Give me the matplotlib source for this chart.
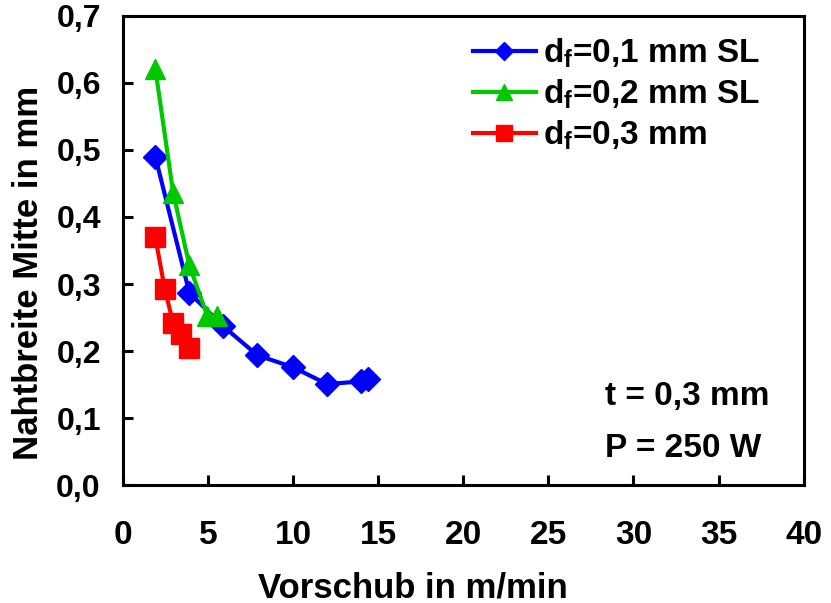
import matplotlib

matplotlib.use("Agg")
import matplotlib.pyplot as plt
from matplotlib.ticker import FuncFormatter, MultipleLocator

# d_f = 0,1 mm SL
x_01 = [1.9, 3.9, 5.9, 7.9, 10.0, 12.0, 14.0, 14.4]
y_01 = [0.490, 0.287, 0.237, 0.194, 0.176, 0.151, 0.155, 0.158]
# d_f = 0,2 mm SL
x_02 = [1.9, 2.95, 3.9, 4.95, 5.5]
y_02 = [0.621, 0.436, 0.328, 0.253, 0.253]
# d_f = 0,3 mm
x_03 = [1.9, 2.45, 2.95, 3.4, 3.9]
y_03 = [0.370, 0.293, 0.242, 0.225, 0.205]

labels = ["d$_\\mathbf{f}$=0,1 mm SL", "d$_\\mathbf{f}$=0,2 mm SL", "d$_\\mathbf{f}$=0,3 mm"]

plt.rcParams["font.family"] = ["Liberation Sans", "DejaVu Sans"]
plt.rcParams["font.weight"] = "bold"
plt.rcParams["mathtext.fontset"] = "custom"
plt.rcParams["mathtext.bf"] = "Liberation Sans:bold"
plt.rcParams["mathtext.rm"] = "Liberation Sans:bold"
plt.rcParams["mathtext.default"] = "bf"

fig = plt.figure(figsize=(8.31, 6.03), dpi=100)
ax = fig.add_axes([0.148, 0.195, 0.819, 0.779])

ax.plot(x_01, y_01, color="#0000FF", lw=3, marker="D", ms=12, label=labels[0])
ax.plot(x_02, y_02, color="#00C800", lw=3, marker="^", ms=14, label=labels[1])
ax.plot(x_03, y_03, color="#FF0000", lw=3, marker="s", ms=14, label=labels[2])

ax.set_xlim(0, 40)
ax.set_ylim(0, 0.7)
ax.xaxis.set_major_locator(MultipleLocator(5))
ax.yaxis.set_major_locator(MultipleLocator(0.1))
ax.yaxis.set_major_formatter(FuncFormatter(lambda v, _: f"{v:.1f}".replace(".", ",")))

for s in ax.spines.values():
    s.set_linewidth(2.2)
ax.tick_params(direction="in", length=7, width=2.2)
ax.tick_params(axis="y", labelsize=23, pad=16)
ax.tick_params(axis="x", labelsize=24, pad=25)

ax.set_xlabel("Vorschub in m/min", fontsize=25, fontweight="bold")
ax.xaxis.set_label_coords(0.426, -0.183)
ax.set_ylabel("Nahtbreite Mitte in mm", fontsize=25, fontweight="bold")
ax.yaxis.set_label_coords(-0.115, 0.453)

ax.legend(loc="upper left", bbox_to_anchor=(0.514, 0.955), frameon=False, fontsize=24,
          borderaxespad=0, borderpad=0, handlelength=1.9, handletextpad=0.2,
          labelspacing=0.22, markerscale=0.8)

ax.text(0.708, 0.19, "t = 0,3 mm", transform=ax.transAxes, fontsize=24,
        fontweight="bold", ha="left", va="center")
ax.text(0.708, 0.079, "P = 250 W", transform=ax.transAxes, fontsize=24,
        fontweight="bold", ha="left", va="center")

fig.savefig("out.png", dpi=100)
